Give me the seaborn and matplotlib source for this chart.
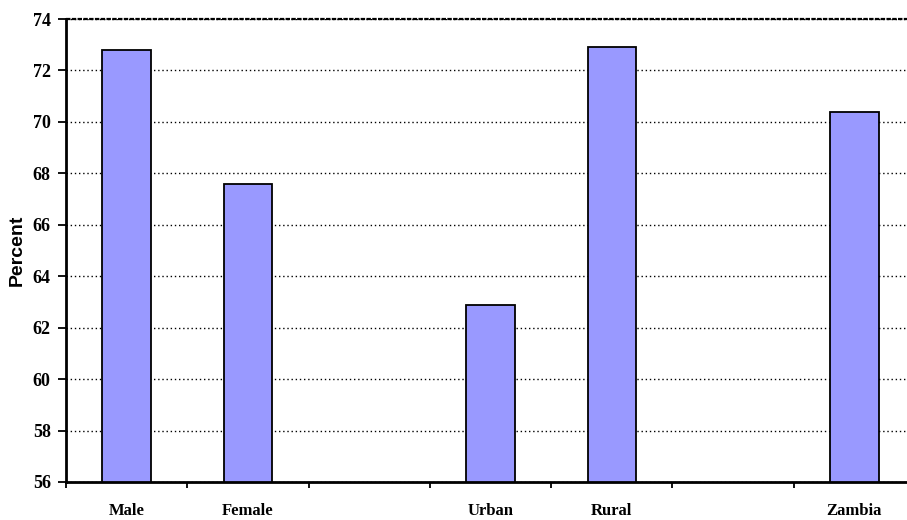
import matplotlib
matplotlib.use("Agg")
import matplotlib.pyplot as plt
import seaborn as sns
import pandas as pd
import numpy as np

# Share of the population, by group
categories = ["Male", "Female", "Urban", "Rural", "Zambia"]
percent = [72.8, 67.6, 62.9, 72.9, 70.4]
# Slot order on the x axis (blank slots separate the groups)
slot_order = ["Male", "Female", " ", "Urban", "Rural", "  ", "Zambia"]
y_ticks = [56, 58, 60, 62, 64, 66, 68, 70, 72, 74]

sns.set_style("white")
plt.rcParams.update({
    "text.color": "black",
    "axes.labelcolor": "black",
    "xtick.color": "black",
    "ytick.color": "black",
})

df = pd.DataFrame({"group": categories, "percent": percent})

fig = plt.figure(figsize=(9.07, 5.20), dpi=100)
ax = fig.add_axes([66 / 907, 1 - 482 / 520, (915 - 66) / 907, (482 - 19) / 520])

sns.barplot(data=df, x="group", y="percent", order=slot_order, ax=ax,
            color="#9999FF", saturation=1, width=0.4,
            edgecolor="black", linewidth=1.3, zorder=3)

ax.set_ylim(56, 74)
ax.set_yticks(y_ticks)
ax.set_yticklabels([str(t) for t in y_ticks],
                   fontfamily="Liberation Serif", fontweight="bold", fontsize=13)
ax.set_xlim(-0.5, len(slot_order) - 0.5)
ax.set_xticks(range(len(slot_order)))
ax.set_xticklabels(slot_order, fontfamily="Liberation Serif",
                   fontweight="bold", fontsize=12)
ax.set_xticks(np.arange(-0.5, len(slot_order), 1.0), minor=True)
ax.tick_params(axis="x", which="major", length=0, pad=15)
ax.tick_params(axis="x", which="minor", length=4, width=1.3, color="black",
               direction="out", bottom=True)
ax.tick_params(axis="y", which="major", length=6, width=1.3, color="black",
               direction="out", left=True, pad=5)

ax.set_xlabel("")
ax.set_ylabel("Percent", fontfamily="Liberation Sans", fontweight="bold",
              fontsize=14, labelpad=5)

ax.yaxis.grid(True, linestyle=(0, (1, 2)), color="black", linewidth=1.0, zorder=0)
ax.xaxis.grid(False)
ax.set_axisbelow(True)
# The top edge of the plot area is a dense dark rule
ax.axhline(74, color="black", linewidth=1.6, linestyle=(0, (2, 0.6)),
           clip_on=False, zorder=4)

for side in ["top", "right"]:
    ax.spines[side].set_visible(False)
for side in ["left", "bottom"]:
    ax.spines[side].set_color("black")
    ax.spines[side].set_linewidth(2)
    ax.spines[side].set_zorder(5)

fig.savefig("out.png", dpi=100)
